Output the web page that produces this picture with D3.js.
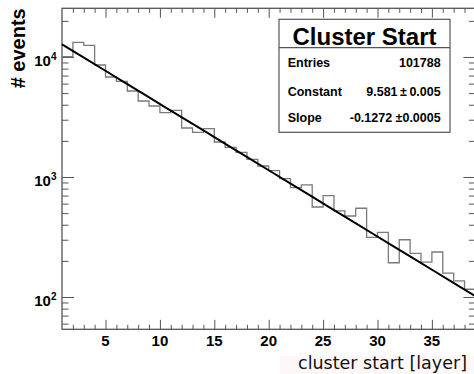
<!DOCTYPE html>
<html>
<head>
<meta charset="utf-8">
<script src="https://cdn.jsdelivr.net/npm/d3@7"></script>
<style>
  html, body { margin: 0; padding: 0; background: #fff; overflow: hidden; }
  svg { display: block; }
</style>
</head>
<body>
<svg id="chart" width="474" height="374"></svg>
<script>
// Cluster start layer distribution with exponential fit
const binEdges = [1, 2, 3, 4, 5, 6, 7, 8, 9, 10, 11, 12, 13, 14, 15, 16, 17, 18, 19, 20,
                  21, 22, 23, 24, 25, 26, 27, 28, 29, 30, 31, 32, 33, 34, 35, 36, 37, 38, 39];
const binCounts = [10060, 13260, 12515, 8577, 6813, 6274, 5208, 4298, 3905, 3434,
                   3596, 2561, 2358, 2527, 1957, 1768, 1606, 1404, 1235, 1128,
                   968, 814, 858, 562, 699, 521, 473, 549, 314, 346,
                   193, 300, 231, 195, 237, 158, 136, 116];
const xMajorTicks = [5, 10, 15, 20, 25, 30, 35];
const yMajorTicks = [100, 1000, 10000];
const yTickExponents = ["2", "3", "4"];
const statsTitle = "Cluster Start";
const statsLabels = ["Entries", "Constant", "Slope"];
const statsValues = ["101788", "9.581\u2009\u00b1\u20090.005", "-0.1272 \u00b10.0005"];
const fitConstant = 9.581;
const fitSlope = -0.1272;
const xTitle = "cluster start [layer]";
const yTitle = "# events";

const svg = d3.select("#chart");
const frame = { left: 62, right: 475.4, top: 8.3, bottom: 329.3 };

const x = d3.scaleLinear().domain([1, 39]).range([frame.left, frame.right]);
const y = d3.scaleLog().domain([53.8, 25450]).range([frame.bottom, frame.top]);

const axisColor = "#555";

// faint backdrop behind the x title
svg.append("rect")
  .attr("x", 280).attr("y", 356).attr("width", 200).attr("height", 20)
  .attr("fill", "#fef7f7");

// minor tick values
const xMinor = d3.range(2, 39).filter(v => !xMajorTicks.includes(v));
const yMinor = [];
[10, 100, 1000, 10000].forEach(d => {
  for (let m = 2; m <= 9; m++) {
    const v = m * d;
    if (v >= y.domain()[0] && v <= y.domain()[1]) yMinor.push(v);
  }
});

function tickAxis(gen, values, size, tx, ty) {
  const g = svg.append("g")
    .attr("transform", `translate(${tx},${ty})`)
    .call(gen.tickValues(values).tickSize(size).tickFormat(""));
  g.select(".domain").remove();
  g.selectAll(".tick line").attr("stroke", axisColor).attr("stroke-width", 1);
  return g;
}

// inward ticks on all four sides
tickAxis(d3.axisTop(x), xMajorTicks, 9.5, 0, frame.bottom);
tickAxis(d3.axisTop(x), xMinor, 4.5, 0, frame.bottom);
tickAxis(d3.axisBottom(x), xMajorTicks, 9.5, 0, frame.top);
tickAxis(d3.axisBottom(x), xMinor, 4.5, 0, frame.top);
tickAxis(d3.axisRight(y), yMajorTicks, 12, frame.left, 0);
tickAxis(d3.axisRight(y), yMinor, 6.5, frame.left, 0);
tickAxis(d3.axisLeft(y), yMajorTicks, 12, frame.right, 0);
tickAxis(d3.axisLeft(y), yMinor, 6.5, frame.right, 0);

// frame
svg.append("rect")
  .attr("x", frame.left).attr("y", frame.top)
  .attr("width", frame.right - frame.left).attr("height", frame.bottom - frame.top)
  .attr("fill", "none").attr("stroke", axisColor).attr("stroke-width", 1.3);

// histogram outline
const histPoints = binCounts.map((c, i) => [binEdges[i], c]);
histPoints.push([binEdges[binEdges.length - 1], binCounts[binCounts.length - 1]]);
svg.append("path")
  .datum(histPoints)
  .attr("fill", "none")
  .attr("stroke", "#7a7a7a")
  .attr("stroke-width", 1.3)
  .attr("d", d3.line().x(d => x(d[0])).y(d => y(d[1])).curve(d3.curveStepAfter));

// exponential fit: exp(constant + slope * x)
const fitPoints = d3.range(0, 21).map(i => {
  const xv = 1 + i * (38 / 20);
  return [xv, Math.exp(fitConstant + fitSlope * xv)];
});
svg.append("path")
  .datum(fitPoints)
  .attr("fill", "none")
  .attr("stroke", "#000")
  .attr("stroke-width", 2)
  .attr("d", d3.line().x(d => x(d[0])).y(d => y(d[1])));

// x tick labels
svg.append("g").selectAll("text")
  .data(xMajorTicks).join("text")
  .attr("x", d => x(d)).attr("y", 346)
  .attr("text-anchor", "middle")
  .attr("font-family", "Liberation Sans, Arial, sans-serif")
  .attr("font-weight", "bold").attr("font-size", 15)
  .text(d => d);

// y tick labels: 10 with superscript exponent
const yLab = svg.append("g").selectAll("text")
  .data(yMajorTicks).join("text")
  .attr("x", 56.5).attr("y", d => y(d) + 9)
  .attr("text-anchor", "end")
  .attr("font-family", "Liberation Sans, Arial, sans-serif")
  .attr("font-weight", "bold").attr("font-size", 15);
yLab.append("tspan").text("10");
yLab.append("tspan").attr("dy", -6).attr("font-size", 10).text((d, i) => yTickExponents[i]);

// axis titles
svg.append("text")
  .attr("transform", `translate(25,${frame.top}) rotate(-90)`)
  .attr("text-anchor", "end")
  .attr("font-family", "Liberation Sans, Arial, sans-serif")
  .attr("font-weight", "bold").attr("font-size", 20)
  .text(yTitle);

svg.append("text")
  .attr("x", 467).attr("y", 369)
  .attr("text-anchor", "end")
  .attr("font-family", "DejaVu Sans, sans-serif")
  .attr("font-size", 17.5)
  .attr("fill", "#111")
  .text(xTitle);

// statistics box
const box = { left: 279, right: 450, top: 19.3, bottom: 132.3, divider: 47.7 };
svg.append("rect")
  .attr("x", box.left).attr("y", box.top)
  .attr("width", box.right - box.left).attr("height", box.bottom - box.top)
  .attr("fill", "#fff").attr("stroke", axisColor).attr("stroke-width", 1.2);
svg.append("line")
  .attr("x1", box.left).attr("x2", box.right)
  .attr("y1", box.divider).attr("y2", box.divider)
  .attr("stroke", axisColor).attr("stroke-width", 1.2);
svg.append("text")
  .attr("x", (box.left + box.right) / 2).attr("y", 45)
  .attr("text-anchor", "middle")
  .attr("font-family", "Liberation Sans, Arial, sans-serif")
  .attr("font-weight", "bold").attr("font-size", 24)
  .text(statsTitle);

const rowBaselines = [66.5, 95.5, 121.5];
const rows = svg.append("g")
  .attr("font-family", "Liberation Sans, Arial, sans-serif")
  .attr("font-weight", "bold").attr("font-size", 12.5);
rows.selectAll("text.lbl").data(statsLabels).join("text")
  .attr("class", "lbl")
  .attr("x", 287.7).attr("y", (d, i) => rowBaselines[i])
  .text(d => d);
rows.selectAll("text.val").data(statsValues).join("text")
  .attr("class", "val")
  .attr("x", 440.7).attr("y", (d, i) => rowBaselines[i])
  .attr("text-anchor", "end")
  .text(d => d);
</script>
</body>
</html>
